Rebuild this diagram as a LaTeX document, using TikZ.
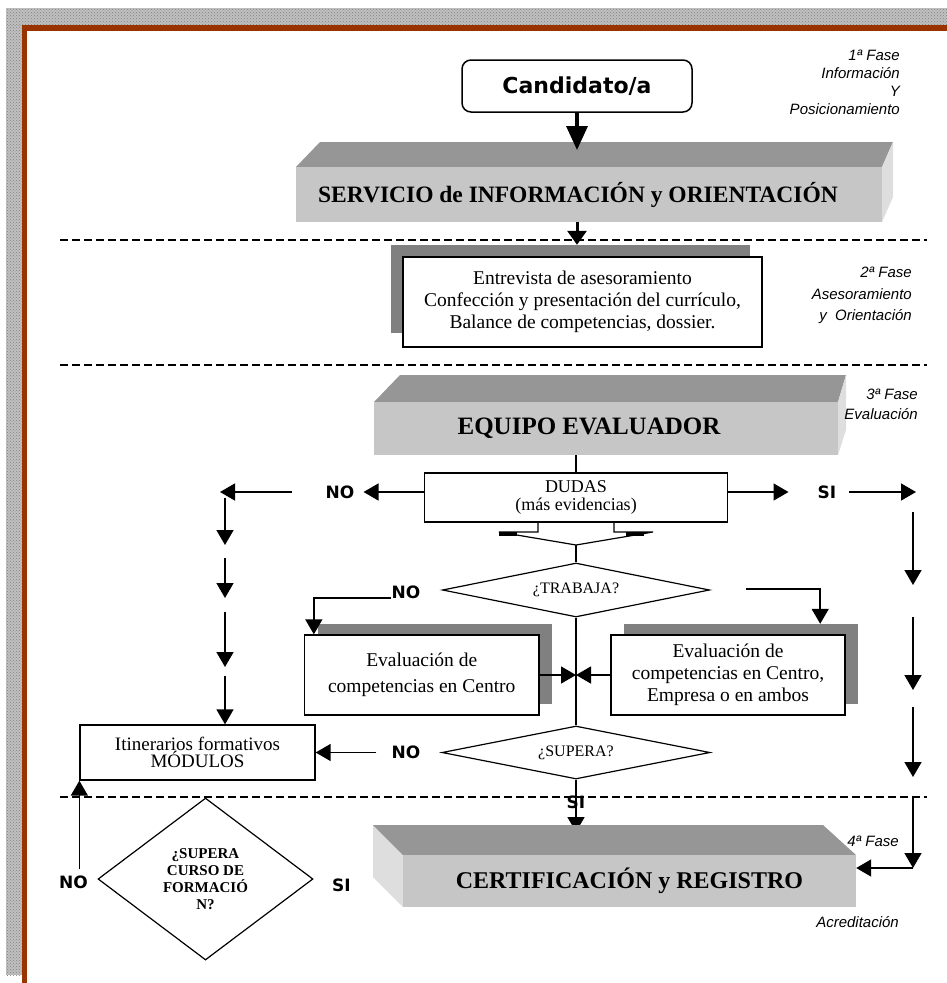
\documentclass[tikz,border=0pt]{standalone}
\usepackage{fontspec}
\setmainfont{Liberation Serif}
\newfontfamily\labelfont{Liberation Sans}
\newfontfamily\handfont{DejaVu Sans}
\usepackage{xcolor}
\definecolor{Frame}{RGB}{153,51,0}
\definecolor{Border}{RGB}{192,192,192}
\definecolor{TopGray}{RGB}{150,150,150}
\definecolor{FrontGray}{RGB}{198,198,198}
\definecolor{SideGray}{RGB}{222,222,222}
\definecolor{ShadowGray}{RGB}{128,128,128}
\usepackage{tikz}
\usetikzlibrary{arrows.meta, shapes.geometric, patterns}

\begin{document}
\begin{tikzpicture}[x=1pt, y=-1pt,
		box/.style={draw, line width=1.3pt, fill=white, align=center, inner sep=0pt},
		shadowbox/.style={fill=ShadowGray, inner sep=0pt},
		face/.style={fill=FrontGray, inner sep=0pt, font=\bfseries\fontsize{24}{28}\selectfont},
		decision/.style={diamond, draw, line width=1.2pt, aspect=5, inner sep=0pt, fill=white, align=center},
		yesno/.style={font=\handfont\bfseries\fontsize{17}{20}\selectfont, inner sep=0pt},
		phase/.style={font=\labelfont\itshape\fontsize{15}{18}\selectfont, align=right, inner sep=0pt},
		arr/.style={-{Triangle[length=15pt, width=17pt]}, line width=1.5pt},
		bigarr/.style={-{Triangle[length=24pt, width=21pt]}, line width=3.5pt},
		midarr/.style={-{Triangle[length=14pt, width=19pt]}, line width=3pt},
		sep/.style={dash pattern=on 8pt off 4pt, line width=1.3pt}]

		\useasboundingbox (0,0) rectangle (947,983);

		% Frame
		\fill[Border] (6,8) rectangle (947,25);
		\fill[Border] (6,25) rectangle (22,975);
		\fill[pattern=crosshatch dots, pattern color=gray] (6,8) rectangle (947,25);
		\fill[pattern=crosshatch dots, pattern color=gray] (6,25) rectangle (22,975);
		\fill[Frame] (22,25) rectangle (947,31);
		\fill[Frame] (22,25) rectangle (27,983);

		% Separators
		\draw[sep] (60,240) -- (927,240);
		\draw[sep] (60,365) -- (927,365);
		\draw[sep] (60,797) -- (927,797);

		% 1a Fase
		\node[draw, rounded corners=9pt, line width=1.5pt, minimum width=230pt, minimum height=52pt,
			font=\handfont\bfseries\fontsize{22}{24}\selectfont] (cand) at (577,86) {Candidato/a};

		\fill[TopGray] (296,167) -- (320,142) -- (893,142) -- (882,167) -- cycle;
		\fill[SideGray] (882,167) -- (893,142) -- (893,197) -- (882,222) -- cycle;
		\node[face, minimum width=586pt, minimum height=55pt, font=\bfseries\fontsize{23.5}{28}\selectfont]
			(serv) at (589,194.5) {SERVICIO de INFORMACIÓN y ORIENTACIÓN\hspace*{22pt}};

		\coordinate (servtop) at (577,150);
		\draw[bigarr] (cand) -- (servtop);

		\node[phase, anchor=north east] (fase1) at (900,50) {1ª Fase\\Información\\Y\\Posicionamiento};

		% 2a Fase
		\node[shadowbox, minimum width=359pt, minimum height=88pt] (entrsh) at (570.5,289) {};
		\node[box, minimum width=359pt, minimum height=90pt, font=\fontsize{19.5}{22}\selectfont] (entr) at (582.5,302)
			{Entrevista de asesoramiento\\Confección y presentación del currículo,\\Balance de competencias, dossier.};
		\draw[midarr] (serv.south -| cand) -- (entrsh.north -| cand);

		\node[phase, anchor=north east, font=\labelfont\itshape\fontsize{15}{21.5}\selectfont] (fase2) at (912,267)
			{2ª Fase\\Asesoramiento\\y\ \ Orientación};

		% 3a Fase
		\fill[TopGray] (374,402) -- (400,375) -- (846,375) -- (838,402) -- cycle;
		\fill[SideGray] (838,402) -- (846,375) -- (846,430) -- (838,455) -- cycle;
		\node[face, minimum width=464pt, minimum height=53pt, font=\bfseries\fontsize{25}{28}\selectfont]
			(equipo) at (606,428.5) {EQUIPO EVALUADOR\hspace*{34pt}};

		\node[phase, anchor=north east, font=\labelfont\itshape\fontsize{15}{20}\selectfont] (fase3) at (918,389)
			{3ª Fase\\Evaluación};

		\node[box, minimum width=303pt, minimum height=49pt, font=\fontsize{18}{18}\selectfont] (dudas) at (576,497.5)
			{DUDAS\\(más evidencias)};
		\draw[line width=1.3pt] (equipo.south -| dudas) -- (dudas);

		% funnel
		\coordinate (funnel) at (576,545);
		\draw[line width=1.2pt] (538,522) -- (538,532) -- (499,532) -- (funnel) -- (653,532) -- (614,532) -- (614,522);
		\fill (499,532) rectangle (517,536);
		\fill (626,532) rectangle (644,536);

		\node[decision, minimum width=267pt, minimum height=54pt, font=\fontsize{16}{18}\selectfont] (trabaja) at (576,590) {¿TRABAJA?};
		\draw[line width=1.2pt] (funnel) -- (trabaja);

		% DUDAS: NO / SI
		\node[yesno] (noA) at (340,492) {NO};
		\node[yesno] (siA) at (827,492) {SI};
		\coordinate (noAend) at (220,492);
		\coordinate (siAend) at (916,492);
		\draw[arr, shorten >=9pt] (dudas.west |- noA) -- (noA);
		\draw[arr, shorten <=33pt] (noA) -- (noAend);
		\draw[arr, shorten >=29pt] (dudas.east |- siA) -- (siA);
		\draw[arr, shorten <=13pt] (siA) -- (siAend);

		% Evaluation
		\node[shadowbox, minimum width=234.5pt, minimum height=80pt] (evcentrosh) at (434.75,664) {};
		\node[box, minimum width=234.5pt, minimum height=80pt, font=\fontsize{19.5}{26}\selectfont] (evcentro) at (421.75,675)
			{Evaluación de\\competencias en Centro};
		\node[shadowbox, minimum width=234pt, minimum height=80pt] (evempresash) at (741,664) {};
		\node[box, minimum width=234pt, minimum height=80pt, font=\fontsize{19.5}{22}\selectfont] (evempresa) at (728,675)
			{Evaluación de\\competencias en Centro,\\Empresa o en ambos};

		\node[yesno] (noB) at (406,592) {NO};
		\coordinate (trR) at (746,589);
		\draw[arr] ([yshift=-6pt]noB.west) -| ([xshift=10pt]evcentro.north west);
		\draw[arr] (trR) -| ([xshift=-38pt]evempresash.north east);

		\node[decision, minimum width=268pt, minimum height=53pt, font=\fontsize{16}{18}\selectfont] (supera) at (576,752.5) {¿SUPERA?};
		\draw[line width=1.3pt] (trabaja) -- (supera);
		\draw[arr] (evcentro) -- (evcentro -| trabaja);
		\draw[arr] (evempresa) -- (evempresa -| trabaja);

		\node[box, minimum width=235pt, minimum height=55pt, font=\fontsize{19}{17.5}\selectfont] (itin) at (197.5,752.5)
			{Itinerarios formativos\\MÓDULOS};
		\node[yesno] (noC) at (406,752.5) {NO};
		\draw[arr, shorten <=15pt] (noC) -- (itin);

		% left column
		\foreach \n/\y in {a/498, b/545, c/558, d/598, e/612, f/667, g/676}
			\coordinate (colL\n) at (225,\y);
		\draw[arr] (colLa) -- (colLb);
		\draw[arr] (colLc) -- (colLd);
		\draw[arr] (colLe) -- (colLf);
		\draw[arr] (colLg) -- (colLg |- itin.north);

		% 4a Fase
		\coordinate (certtop) at (576,832);
		\draw[arr] (supera) -- (certtop);
		\node[yesno] (siB) at (576,802) {SI};

		\fill[SideGray] (373,825) -- (403,855) -- (403,907) -- (373,877) -- cycle;
		\fill[TopGray] (373,825) -- (823,825) -- (856,855) -- (403,855) -- cycle;
		\node[face, minimum width=453pt, minimum height=52pt] (cert) at (629.5,881) {CERTIFICACIÓN y REGISTRO};

		\node[phase, anchor=east] (fase4) at (899,841) {4ª Fase};
		\node[phase, anchor=east] (acred) at (899,922) {Acreditación};

		% right column
		\foreach \n/\y in {a/512, b/585, c/617, d/690, e/707, f/777, g/797, h/868}
			\coordinate (colR\n) at (913,\y);
		\draw[arr] (colRa) -- (colRb);
		\draw[arr] (colRc) -- (colRd);
		\draw[arr] (colRe) -- (colRf);
		\draw[arr] (colRg) -- (colRh);
		\draw[arr] (colRh) -- (colRh -| cert.east);

		% Curso de formacion
		\node[decision, aspect=1, minimum width=215pt, minimum height=162pt, font=\bfseries\fontsize{15}{17}\selectfont]
			(curso) at (205.5,879) {¿SUPERA\\CURSO DE\\FORMACIÓ\\N?};
		\node[yesno] (noD) at (73.5,882) {NO};
		\node[yesno] (siD) at (341.5,885) {SI};
		\draw[arr, shorten <=6pt] (noD.north -| itin.south west) -- (itin.south west);

	\end{tikzpicture}
\end{document}
